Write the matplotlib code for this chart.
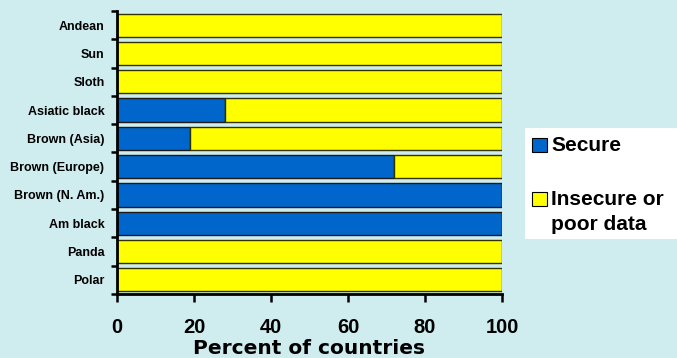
import matplotlib
matplotlib.use("Agg")
import matplotlib.pyplot as plt
from matplotlib.patches import Rectangle
import numpy as np

species = ["Polar", "Panda", "Am black", "Brown (N. Am.)", "Brown (Europe)",
           "Brown (Asia)", "Asiatic black", "Sloth", "Sun", "Andean"]
secure = [0, 0, 100, 100, 72, 19, 28, 0, 0, 0]
insecure = [100 - s for s in secure]
xticks = [0, 20, 40, 60, 80, 100]
legend_labels = ["Secure", "Insecure or\npoor data"]

bg = "#cfecef"
blue = "#0066cc"
yellow = "#ffff00"
W, H = 677, 358

fig = plt.figure(figsize=(W / 100, H / 100), dpi=100, facecolor=bg)
ax = fig.add_axes([117 / W, 1 - 294 / H, (502 - 117) / W, (294 - 11) / H])
ax.set_facecolor(bg)

y = np.arange(len(species))
h = 0.82
ax.barh(y, secure, height=h, color=blue, edgecolor="#1a1a1a", linewidth=1.0)
ax.barh(y, insecure, left=secure, height=h, color=yellow,
        edgecolor="#333300", linewidth=1.0)

ax.set_xlim(0, 100)
ax.set_ylim(-0.5, len(species) - 0.5)

ax.set_yticks(y)
ax.set_yticklabels(species, fontsize=9, fontweight="bold",
                   family="Liberation Sans")
ax.set_yticks(np.arange(-0.5, len(species), 1.0), minor=True)
ax.tick_params(axis="y", which="major", length=0, pad=9)
ax.tick_params(axis="y", which="minor", length=4, width=1.8, direction="out")

ax.set_xticks(xticks)
ax.set_xticklabels([str(t) for t in xticks], fontsize=14.5, fontweight="bold",
                   family="Liberation Sans")
ax.tick_params(axis="x", length=6, width=1.8, direction="out", pad=11)

for side in ("top", "right"):
    ax.spines[side].set_visible(False)
for side in ("left", "bottom"):
    ax.spines[side].set_linewidth(2)
    ax.spines[side].set_color("black")

# axis title, placed in figure pixels under the tick labels
fig.text(309 / W, 1 - 354 / H, "Percent of countries", fontsize=14.5,
         fontweight="bold", family="DejaVu Sans", ha="center", va="baseline")

# legend panel on the right
fig.patches.append(Rectangle((525 / W, 1 - 239 / H), (W - 525) / W, 111 / H,
                             transform=fig.transFigure, facecolor="white",
                             edgecolor="none", zorder=0))
legend_items = [(blue, 145, [(legend_labels[0], 145)]),
                (yellow, 199, [(line, yy) for line, yy in
                               zip(legend_labels[1].split("\n"), (199, 224))])]
for color, hy, lines in legend_items:
    fig.patches.append(Rectangle((532 / W, 1 - (hy + 7) / H), 15 / W, 14 / H,
                                 transform=fig.transFigure, facecolor=color,
                                 edgecolor="black", linewidth=0.8, zorder=1))
    for line, ly in lines:
        fig.text(551 / W, 1 - ly / H, line, fontsize=15, fontweight="bold",
                 family="Liberation Sans", ha="left", va="center")

fig.savefig("out.png", dpi=100, facecolor=bg)
